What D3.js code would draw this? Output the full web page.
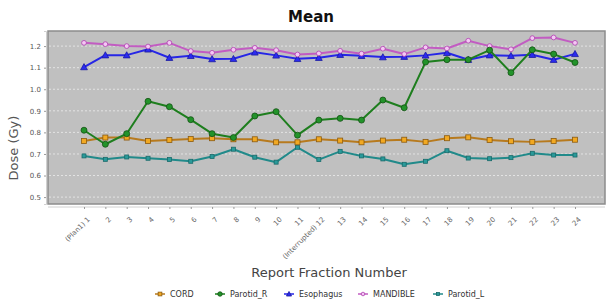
<!DOCTYPE html>
<html>
<head>
<meta charset="utf-8">
<script src="https://cdn.jsdelivr.net/npm/d3@7"></script>
<style>
  body { margin: 0; background: #fff; }
  text { font-family: "DejaVu Sans", Verdana, sans-serif; }
</style>
</head>
<body>
<div id="chart"></div>
<script>
// data
var fractions = d3.range(1, 25);
var tickLabels = fractions.map(function (f) {
  if (f === 1) return "(Plan1) 1";
  if (f === 12) return "(Interrupted) 12";
  return "" + f;
});
var seriesNames = ["CORD", "Parotid_R", "Esophagus", "MANDIBLE", "Parotid_L"];

var cord = [0.760, 0.776, 0.776, 0.760, 0.765, 0.769, 0.773, 0.768, 0.768, 0.754, 0.754, 0.768,
            0.762, 0.754, 0.762, 0.766, 0.756, 0.773, 0.777, 0.765, 0.759, 0.756, 0.760, 0.766];
var parotidR = [0.810, 0.745, 0.794, 0.944, 0.919, 0.859, 0.794, 0.776, 0.876, 0.896, 0.787, 0.857,
                0.865, 0.857, 0.950, 0.914, 1.126, 1.137, 1.137, 1.181, 1.077, 1.183, 1.163, 1.124];
var esophagus = [1.103, 1.158, 1.158, 1.185, 1.146, 1.155, 1.140, 1.141, 1.171, 1.157, 1.141, 1.146,
                 1.160, 1.155, 1.149, 1.151, 1.157, 1.169, 1.137, 1.158, 1.155, 1.160, 1.137, 1.164];
var mandible = [1.215, 1.209, 1.200, 1.198, 1.215, 1.177, 1.169, 1.183, 1.192, 1.181, 1.161, 1.166,
                1.178, 1.165, 1.188, 1.163, 1.194, 1.189, 1.225, 1.200, 1.185, 1.237, 1.240, 1.215];
var parotidL = [0.691, 0.675, 0.686, 0.680, 0.674, 0.666, 0.688, 0.722, 0.685, 0.662, 0.731, 0.674,
                0.712, 0.691, 0.677, 0.652, 0.666, 0.715, 0.681, 0.678, 0.683, 0.703, 0.695, 0.695];
var yTicks = [0.5, 0.6, 0.7, 0.8, 0.9, 1.0, 1.1, 1.2];

var styles = {
  "CORD":      {line: "#b77a1e", fill: "#f2a922", stroke: "#8a5a10", shape: "square", size: 5},
  "Parotid_R": {line: "#1e7e1e", fill: "#22932a", stroke: "#145214", shape: "circle", size: 3},
  "Esophagus": {line: "#2626e6", fill: "#2b2bf0", stroke: "#1a1aa0", shape: "triangle", size: 3.4},
  "MANDIBLE":  {line: "#c25cc2", fill: "#f4c8f4", stroke: "#b040b0", shape: "circle", size: 2.4},
  "Parotid_L": {line: "#218a8a", fill: "#2a9a9a", stroke: "#1a6a6a", shape: "square", size: 4}
};

var series = [
  {name: "CORD", values: cord},
  {name: "Parotid_R", values: parotidR},
  {name: "Esophagus", values: esophagus},
  {name: "MANDIBLE", values: mandible},
  {name: "Parotid_L", values: parotidL}
];

var W = 608, H = 301;
var plot = {left: 48, right: 605, top: 31, bottom: 204};

var svg = d3.select("#chart").append("svg")
    .attr("width", W)
    .attr("height", H);

var x = d3.scalePoint()
    .domain(fractions)
    .range([84, 575]);

var y = d3.scaleLinear()
    .domain([0.468, 1.27])
    .range([plot.bottom, plot.top]);

// title
svg.append("text")
  .attr("x", 311)
  .attr("y", 22)
  .attr("text-anchor", "middle")
  .attr("font-size", "15px")
  .attr("font-weight", "bold")
  .attr("fill", "#111")
  .text("Mean");

// plot background
svg.append("rect")
  .attr("x", plot.left)
  .attr("y", plot.top)
  .attr("width", plot.right - plot.left)
  .attr("height", plot.bottom - plot.top)
  .attr("fill", "#c0c0c0")
  .attr("stroke", "#8c8c8c")
  .attr("stroke-width", 1.5);

// grid
svg.append("g").selectAll("line")
  .data(yTicks)
  .join("line")
  .attr("x1", plot.left + 1)
  .attr("x2", plot.right - 1)
  .attr("y1", d => y(d))
  .attr("y2", d => y(d))
  .attr("stroke", "#ececec")
  .attr("stroke-width", 0.8)
  .attr("stroke-dasharray", "2,2");

// y axis
var yAxis = d3.axisLeft(y).tickValues(yTicks).tickFormat(d3.format(".1f")).tickSize(2).tickPadding(3);
var yg = svg.append("g")
  .attr("transform", "translate(" + (plot.left - 2) + ",0)")
  .call(yAxis);
yg.select(".domain").attr("stroke", "#d0d0d0");
yg.selectAll(".tick line").attr("stroke", "#999");
yg.selectAll(".tick text")
  .attr("font-size", "7px")
  .attr("fill", "#555")
  .attr("font-family", "DejaVu Sans, sans-serif");

svg.append("text")
  .attr("transform", "translate(18,148) rotate(-90)")
  .attr("text-anchor", "middle")
  .attr("font-size", "13px")
  .attr("fill", "#555")
  .text("Dose (Gy)");

// x axis
var xAxis = d3.axisBottom(x).tickFormat((d, i) => tickLabels[i]).tickSize(2).tickPadding(2);
var xg = svg.append("g")
  .attr("transform", "translate(0," + (plot.bottom + 3) + ")")
  .call(xAxis);
xg.select(".domain").attr("stroke", "#d0d0d0").attr("d", "M" + plot.left + ",0H" + plot.right);
xg.selectAll(".tick line").attr("stroke", "#999");
xg.selectAll(".tick text")
  .attr("font-size", "7px")
  .attr("fill", "#666")
  .attr("font-family", "DejaVu Sans, sans-serif")
  .attr("text-anchor", "end")
  .attr("dx", "0")
  .attr("dy", "0")
  .attr("transform", "translate(3,10) rotate(-45)");

svg.append("text")
  .attr("x", 329)
  .attr("y", 277)
  .attr("text-anchor", "middle")
  .attr("font-size", "13px")
  .attr("fill", "#444")
  .text("Report Fraction Number");

// marker drawer
function drawMarker(sel, st) {
  if (st.shape === "circle") {
    sel.append("circle").attr("r", st.size);
  } else if (st.shape === "square") {
    sel.append("rect")
      .attr("x", -st.size / 2).attr("y", -st.size / 2)
      .attr("width", st.size).attr("height", st.size);
  } else {
    var s = st.size;
    sel.append("path").attr("d", "M0," + (-s) + "L" + s + "," + (s * 0.8) + "L" + (-s) + "," + (s * 0.8) + "Z");
  }
  sel.selectAll("circle,rect,path")
    .attr("fill", st.fill)
    .attr("stroke", st.stroke)
    .attr("stroke-width", 0.8);
}

var line = d3.line()
  .x((d, i) => x(fractions[i]))
  .y(d => y(d));

// draw order
var drawOrder = ["Parotid_L", "CORD", "Esophagus", "MANDIBLE", "Parotid_R"];
drawOrder.forEach(function (name) {
  var s = series.find(d => d.name === name);
  var st = styles[name];
  var g = svg.append("g").attr("class", "series");
  g.append("path")
    .datum(s.values)
    .attr("fill", "none")
    .attr("stroke", st.line)
    .attr("stroke-width", 2)
    .attr("stroke-linejoin", "round")
    .attr("d", line);
  g.selectAll("g.pt")
    .data(s.values)
    .join("g")
    .attr("class", "pt")
    .attr("transform", (d, i) => "translate(" + x(fractions[i]) + "," + y(d) + ")")
    .each(function () { drawMarker(d3.select(this), st); });
});

// legend
var legendX = [155, 215, 284, 358, 433];
var lg = svg.append("g").attr("transform", "translate(0,294)");
seriesNames.forEach(function (name, i) {
  var st = styles[name];
  var item = lg.append("g").attr("transform", "translate(" + legendX[i] + ",0)");
  item.append("line")
    .attr("x1", 0).attr("x2", 10)
    .attr("stroke", st.line).attr("stroke-width", 1.5);
  var m = item.append("g").attr("transform", "translate(5,0)");
  drawMarker(m, {shape: st.shape, size: st.size * 0.75, fill: st.fill, stroke: st.stroke});
  item.append("text")
    .attr("x", 15)
    .attr("y", 3)
    .attr("font-size", "8px")
    .attr("fill", "#333")
    .text(name);
});
</script>
</body>
</html>
